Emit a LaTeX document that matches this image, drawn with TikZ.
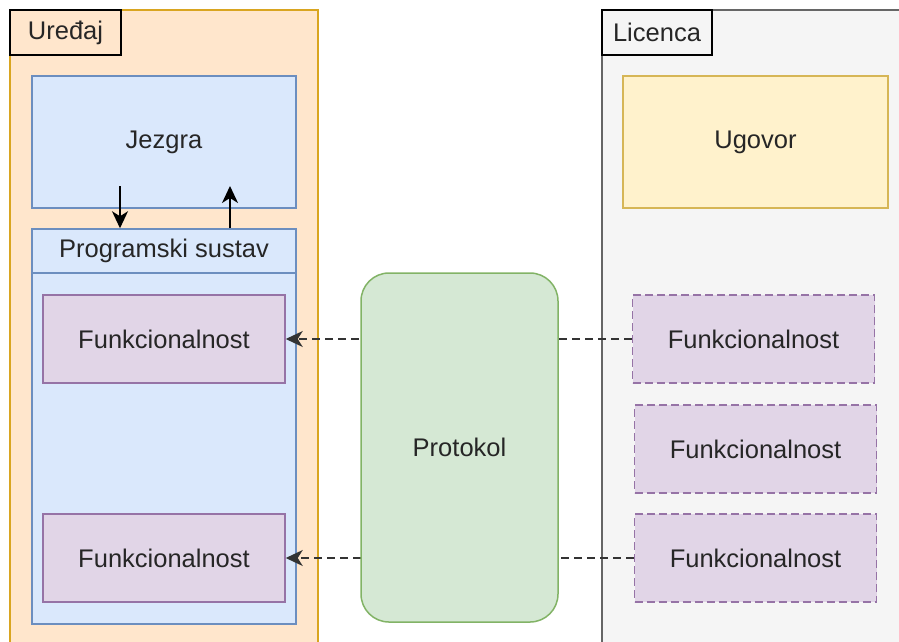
\documentclass[tikz,border=0pt]{standalone}
\usepackage{fontspec}
\setmainfont{Liberation Sans}
\usepackage{tikz}
\usetikzlibrary{arrows.meta}
\tikzset{>={Stealth[width=18pt,length=18pt,inset=6pt]}}

\definecolor{devfill}{HTML}{FFE6CC}
\definecolor{devline}{HTML}{D9A520}
\definecolor{bluefill}{HTML}{DAE8FC}
\definecolor{blueline}{HTML}{6C8EBF}
\definecolor{purpfill}{HTML}{E1D5E7}
\definecolor{purpline}{HTML}{9673A6}
\definecolor{greenfill}{HTML}{D5E8D4}
\definecolor{greenline}{HTML}{82B366}
\definecolor{licfill}{HTML}{F5F5F5}
\definecolor{licline}{HTML}{666666}
\definecolor{yelfill}{HTML}{FFF2CC}
\definecolor{yelline}{HTML}{D6B656}
\definecolor{dashline}{HTML}{333333}

\begin{document}
\begin{tikzpicture}[x=1pt,y=-1pt,
  every node/.style={font=\fontsize{25.5}{30}\selectfont, text=black!85},
  box/.style={rectangle, draw, line width=1.5pt, inner sep=0pt},
  frame/.style={box, minimum width=308pt, minimum height=640pt},
  tag/.style={box, draw=black, line width=2pt, minimum height=45pt},
  bluebox/.style={box, fill=bluefill, draw=blueline, minimum width=264pt},
  funcbox/.style={box, fill=purpfill, draw=purpline, minimum width=242pt, minimum height=88pt},
  extbox/.style={funcbox, dash pattern=on 8pt off 4pt},
  arr/.style={-{Stealth[width=16pt,length=17pt,inset=5pt]}, line width=1.5pt},
  link/.style={arr, dashline, dash pattern=on 8pt off 5pt}]

  \useasboundingbox (0,0) rectangle (899,641);
  \clip (0,0) rectangle (899,641);

  % Uredjaj
  \node[frame, fill=devfill, draw=devline] (dev) at (164,330) {};
  \node[tag, minimum width=111pt] (devtag) at (65.5,32.5) {Uređaj};
  \node[bluebox, minimum height=132pt] (core) at (164,142) {Jezgra};
  \node[bluebox, minimum height=395pt] (sw) at (164,426.5) {};
  \node[bluebox, minimum height=44pt] (swhead) at (164,251) {Programski sustav};
  \node[funcbox] (fl1) at (164,339) {Funkcionalnost};
  \node[funcbox] (fl2) at (164,558) {Funkcionalnost};

  % Licenca
  \node[frame, fill=licfill, draw=licline] (lic) at (756,330) {};
  \node[tag, minimum width=110pt] (lictag) at (657,32.5) {Licenca};
  \node[box, fill=yelfill, draw=yelline, minimum width=265pt, minimum height=132pt] (deal) at (755.5,142) {Ugovor};
  \node[extbox] (fr1) at (753.5,339) {Funkcionalnost};
  \node[extbox] (fr2) at (755.5,449) {Funkcionalnost};
  \node[extbox] (fr3) at (755.5,558) {Funkcionalnost};

  % Jezgra <-> Programski sustav
  \coordinate (kd) at (120,186);
  \coordinate (ku) at (230,186);
  \draw[arr] (kd) -- (kd |- swhead.north); % core->sw
  \draw[arr] (ku |- swhead.north) -- (ku); % sw->core

  \draw[link] (fr1.west) -- (fl1.east); %% fr1->fl1
  \draw[link] (fr3.west) -- (fl2.east); %% fr3->fl2

  % Protokol
  \node[box, rounded corners=28pt, fill=greenfill, draw=greenline,
        minimum width=197pt, minimum height=349pt] (proto) at (459.5,447.5) {Protokol};

\end{tikzpicture}
\end{document}
